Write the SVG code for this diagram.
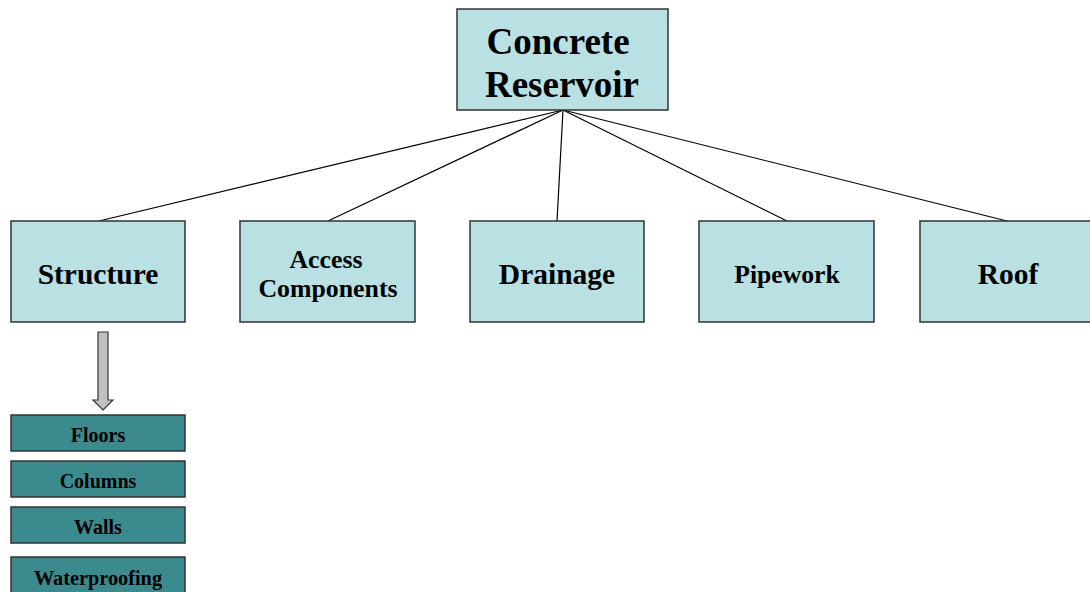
<svg xmlns="http://www.w3.org/2000/svg" width="1090" height="592" viewBox="0 0 1090 592">
<style>
.box{fill:#b9e0e3;stroke:#333;stroke-width:1.5}
.sub{fill:#3b8a8e;stroke:#333;stroke-width:1.5}
text{font-family:"Liberation Serif","Times New Roman",serif;font-weight:bold;fill:#000;text-anchor:middle}
.conn line{stroke:#000;stroke-width:1.2}
</style>
<rect width="1090" height="592" fill="#fff"/>
<g class="conn">
<line x1="563" y1="110" x2="99" y2="221"/>
<line x1="563" y1="110" x2="328" y2="221"/>
<line x1="563" y1="110" x2="557" y2="221"/>
<line x1="563" y1="110" x2="787" y2="221"/>
<line x1="563" y1="110" x2="1007" y2="221"/>
<path d="M98,332 H108 V400 H113 L103,410 L93,400 H98 Z" fill="#c0c0c0" stroke="#333" stroke-width="1.2"/>
</g>
<g id="root"><rect class="box" x="457" y="9" width="211" height="101"/>
<text x="558" y="54" font-size="37">Concrete</text><text x="562" y="97" font-size="37">Reservoir</text></g>
<g id="structure"><rect class="box" x="11" y="221" width="174" height="101"/><text x="98" y="284" font-size="29.5">Structure</text></g>
<g id="access"><rect class="box" x="240" y="221" width="175" height="101"/><text x="326" y="268" font-size="25.8">Access</text><text x="328" y="297" font-size="25.8">Components</text></g>
<g id="drainage"><rect class="box" x="470" y="221" width="174" height="101"/><text x="557" y="284" font-size="29.5">Drainage</text></g>
<g id="pipework"><rect class="box" x="699" y="221" width="175" height="101"/><text x="787" y="283" font-size="25.7">Pipework</text></g>
<g id="roof"><rect class="box" x="920" y="221" width="175" height="101"/><text x="1008" y="284" font-size="29.5">Roof</text></g>
<g id="floors"><rect class="sub" x="11" y="415" width="174" height="36"/><text x="98" y="442" font-size="20">Floors</text></g>
<g id="columns"><rect class="sub" x="11" y="461" width="174" height="36"/><text x="98" y="488" font-size="20">Columns</text></g>
<g id="walls"><rect class="sub" x="11" y="507" width="174" height="36"/><text x="98" y="534" font-size="20">Walls</text></g>
<g id="waterproofing"><rect class="sub" x="11" y="557" width="174" height="40"/><text x="98" y="585" font-size="20.3">Waterproofing</text></g>
</svg>
